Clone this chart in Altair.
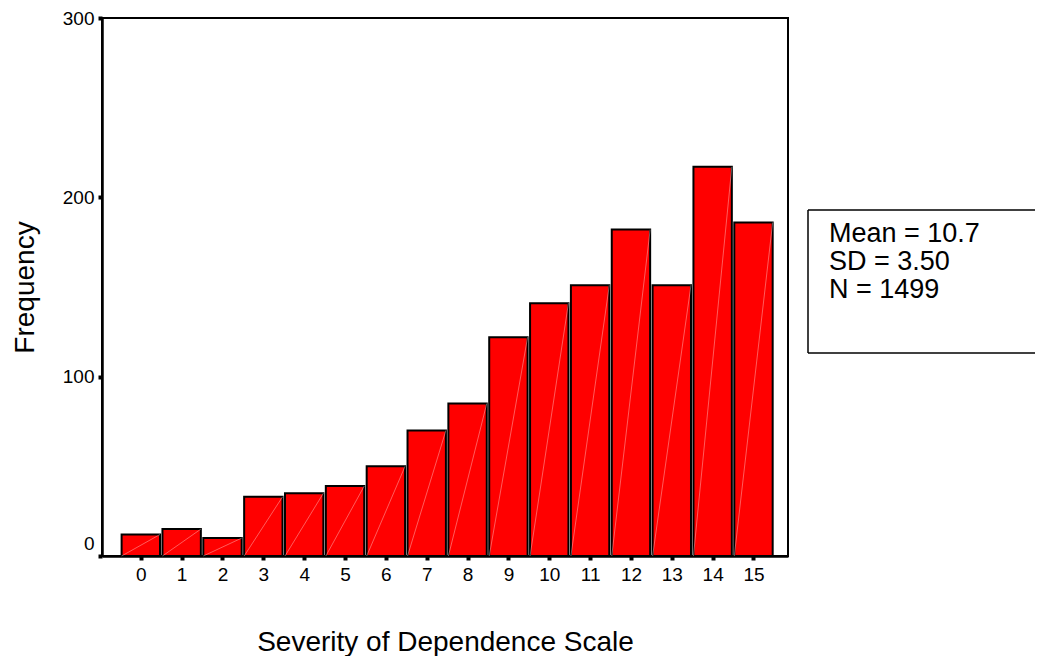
import altair as alt
import pandas as pd

scores = list(range(16))
freqs = [12, 15, 10, 33, 35, 39, 50, 70, 85, 122, 141, 151, 182, 151, 217, 186]
y_ticks = [0, 100, 200, 300]
stats_lines = ["Mean = 10.7", "SD = 3.50", "N = 1499"]

half = 0.47
df = pd.DataFrame({"score": scores, "freq": freqs})
df["x0"] = df["score"] - half
df["x1"] = df["score"] + half
df["zero"] = 0

FONT = "Liberation Sans"

xscale = alt.Scale(domain=[-0.95, 15.845], nice=False, zero=False)
yscale = alt.Scale(domain=[0, 300], nice=False)

xaxis = alt.Axis(values=scores, title="Severity of Dependence Scale", grid=False,
                 labelFont=FONT, labelFontSize=19, labelColor="black",
                 labelBaseline="top", labelPadding=5,
                 tickColor="black", tickSize=4, tickWidth=4,
                 domainColor="black", domainWidth=2.5,
                 titleFont=FONT, titleFontSize=28, titleFontWeight="normal",
                 titleColor="black", titlePadding=44)
yaxis = alt.Axis(values=y_ticks, title="Frequency", grid=False,
                 labelFont=FONT, labelFontSize=19, labelColor="black",
                 labelPadding=4,
                 labelOffset=alt.ExprRef("datum.value == 0 ? -13 : 0"),
                 tickColor="black", tickSize=4, tickWidth=4,
                 domainColor="black", domainWidth=2.5,
                 titleFont=FONT, titleFontSize=28, titleFontWeight="normal",
                 titleColor="black", titlePadding=23)

bars = alt.Chart(df).mark_bar(color="#FF0000", stroke="black", strokeWidth=2).encode(
    x=alt.X("x0:Q", scale=xscale, axis=xaxis),
    x2="x1:Q",
    y=alt.Y("freq:Q", scale=yscale, axis=yaxis),
    y2="zero:Q",
)

diag = alt.Chart(df).mark_rule(color="white", strokeWidth=0.8, opacity=0.45).encode(
    x=alt.X("x0:Q", scale=xscale),
    x2="x1:Q",
    y=alt.Y("zero:Q", scale=yscale),
    y2="freq:Q",
)

one = pd.DataFrame({"a": [0]})
box_top = alt.Chart(one).mark_rule(color="black", strokeWidth=1.5).encode(
    x=alt.value(706), x2=alt.value(1000), y=alt.value(192))
box_bot = alt.Chart(one).mark_rule(color="black", strokeWidth=1.5).encode(
    x=alt.value(706), x2=alt.value(1000), y=alt.value(335))
box_left = alt.Chart(one).mark_rule(color="black", strokeWidth=1.5).encode(
    x=alt.value(706), y=alt.value(192), y2=alt.value(335))

line_y = [224, 252, 280]
texts = [
    alt.Chart(pd.DataFrame({"line": [s]})).mark_text(
        font=FONT, fontSize=27, align="left", baseline="alphabetic", color="black"
    ).encode(x=alt.value(727), y=alt.value(yy), text="line:N")
    for s, yy in zip(stats_lines, line_y)
]

chart = alt.layer(bars, diag, box_top, box_bot, box_left, *texts).properties(
    width=686, height=538,
    background="white",
    autosize=alt.AutoSizeParams(type="none"),
    padding={"left": 94, "top": 10, "right": 247, "bottom": 100},
).configure_view(stroke="black", strokeWidth=2)

chart.save("out.html", embed_options={"renderer": "svg", "actions": False})
